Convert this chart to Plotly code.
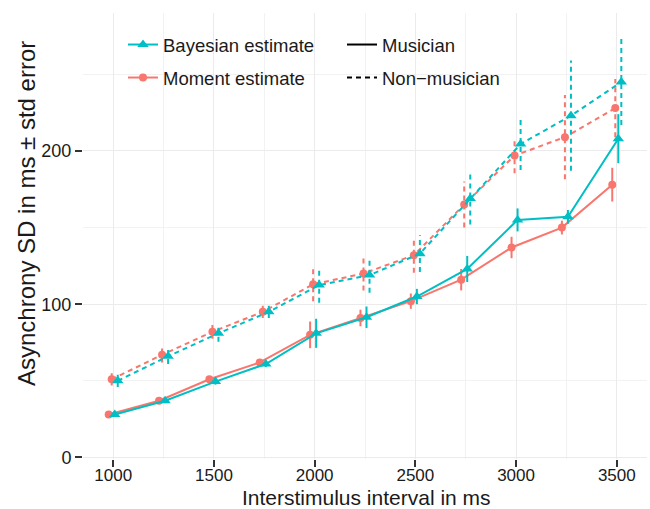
import plotly.graph_objects as go

# ---- data ----
isi = [1000, 1250, 1500, 1750, 2000, 2250, 2500, 2750, 3000, 3250, 3500]

moment_musician = [28, 37, 51, 62, 80, 91, 102, 116, 137, 150, 178]
moment_musician_se = [1, 1.5, 2, 2, 8.7, 5.4, 5, 7, 7, 4.5, 11]

moment_nonmusician = [51, 67, 82, 95, 113, 120, 132, 165, 197, 209, 228]
moment_nonmusician_se = [4, 5, 4.5, 4, 11, 11, 11.5, 15, 11.5, 27.5, 19]

bayes_musician = [28, 37, 49.5, 61, 81, 91.5, 105, 123, 155, 157, 208]
bayes_musician_se = [1, 1.5, 2, 2, 9.5, 7, 5, 8.5, 7.5, 4.5, 16]

bayes_nonmusician = [50, 66, 81, 95, 112.5, 119, 133, 169, 204.5, 223, 245]
bayes_nonmusician_se = [4, 5, 5.5, 4, 11.5, 11.5, 12, 17, 17, 36, 28]

x_ticks = [1000, 1500, 2000, 2500, 3000, 3500]
y_ticks = [0, 100, 200]

# ---- styling ----
RED = "#F8766D"
CYAN = "#00BFC4"
FONT = "Liberation Sans, Arial, sans-serif"
DASH = "5px,4px"

series = [
    (moment_musician, moment_musician_se, RED, "circle", 8, "solid", -22.5),
    (moment_nonmusician, moment_nonmusician_se, RED, "circle", 8, DASH, -7.5),
    (bayes_musician, bayes_musician_se, CYAN, "triangle-up", 10, "solid", 7.5),
    (bayes_nonmusician, bayes_nonmusician_se, CYAN, "triangle-up", 10, DASH, 22.5),
]

fig = go.Figure()

for vals, se, color, sym, msize, dash, off in series:
    xs = [v + off for v in isi]
    fig.add_trace(go.Scatter(
        x=xs, y=vals, mode="lines+markers", showlegend=False,
        line=dict(color=color, width=2, dash=dash),
        marker=dict(color=color, symbol=sym, size=msize, line=dict(width=0)),
        hoverinfo="skip",
    ))
    ex, ey = [], []
    for xv, yv, e in zip(xs, vals, se):
        ex += [xv, xv, None]
        ey += [yv - e, yv + e, None]
    fig.add_trace(go.Scatter(
        x=ex, y=ey, mode="lines", showlegend=False,
        line=dict(color=color, width=2, dash=dash), hoverinfo="skip",
    ))

# legend entries
fig.add_trace(go.Scatter(x=[None], y=[None], mode="lines+markers", name="Bayesian estimate",
                         line=dict(color=CYAN, width=2),
                         marker=dict(color=CYAN, symbol="triangle-up", size=10),
                         legend="legend"))
fig.add_trace(go.Scatter(x=[None], y=[None], mode="lines+markers", name="Moment estimate",
                         line=dict(color=RED, width=2),
                         marker=dict(color=RED, symbol="circle", size=8),
                         legend="legend2"))
fig.add_trace(go.Scatter(x=[None], y=[None], mode="lines", name="Musician",
                         line=dict(color="black", width=2), legend="legend3"))
fig.add_trace(go.Scatter(x=[None], y=[None], mode="lines", name="Non\u2212musician",
                         line=dict(color="black", width=2, dash=DASH), legend="legend4"))

W, H = 650, 509
ML, MR, MT, MB = 83, 3, 13, 50
PW, PH = W - ML - MR, H - MT - MB


def leg(px, py):
    return dict(x=px / W, y=1 - py / H, xref="container", yref="container",
                xanchor="left", yanchor="middle", bgcolor="rgba(0,0,0,0)",
                font=dict(family=FONT, size=18.5, color="#1a1a1a"))


def paper_x(px):
    return (px - ML) / PW


def paper_y(py):
    return (H - MB - py) / PH


fig.update_layout(
    width=W, height=H,
    paper_bgcolor="white", plot_bgcolor="white",
    margin=dict(l=ML, r=MR, t=MT, b=MB, autoexpand=False),
    font=dict(family=FONT, color="#1a1a1a"),
    legend=leg(123, 45),
    legend2=leg(123, 78),
    legend3=leg(342, 45),
    legend4=leg(342, 78),
    xaxis=dict(
        range=[850, 3650], tickvals=x_ticks, ticktext=[str(v) for v in x_ticks],
        showgrid=True, gridcolor="#EBEBEB", gridwidth=1.2, zeroline=False,
        ticks="outside", ticklen=7, tickwidth=2, tickcolor="#333333",
        ticklabelstandoff=-6,
        tickfont=dict(family=FONT, size=17, color="#1a1a1a"),
        minor=dict(tickvals=[1250, 1750, 2250, 2750, 3250], showgrid=True,
                   gridcolor="#F2F2F2", gridwidth=1, ticks=""),
        automargin=False, showline=False,
    ),
    yaxis=dict(
        range=[-1, 290], tickvals=y_ticks, ticktext=[str(v) for v in y_ticks],
        showgrid=True, gridcolor="#EBEBEB", gridwidth=1.2, zeroline=False,
        ticks="outside", ticklen=7, tickwidth=2, tickcolor="#333333",
        tickfont=dict(family=FONT, size=18, color="#1a1a1a"),
        minor=dict(tickvals=[50, 150, 250], showgrid=True,
                   gridcolor="#F2F2F2", gridwidth=1, ticks=""),
        automargin=False, showline=False,
    ),
    annotations=[
        dict(text="Interstimulus interval in ms", xref="paper", yref="paper",
             x=paper_x(366), y=paper_y(497.5), xanchor="center", yanchor="middle",
             showarrow=False, borderpad=0,
             font=dict(family=FONT, size=21, color="#1a1a1a")),
        dict(text="Asynchrony SD in ms \u00b1 std error", xref="paper", yref="paper",
             x=paper_x(26), y=paper_y(214), xanchor="center", yanchor="middle",
             textangle=-90, showarrow=False,
             font=dict(family=FONT, size=24, color="#1a1a1a")),
    ],
)

fig.write_html("out.html", config={"displayModeBar": False},
               post_script="document.body.style.margin='0';")
